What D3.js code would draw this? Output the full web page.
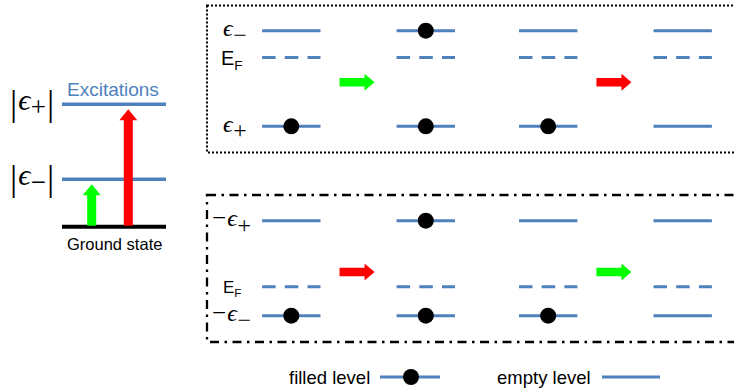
<!DOCTYPE html>
<html><head><meta charset="utf-8">
<script src="https://cdn.jsdelivr.net/npm/d3@7"></script>
<style>body{margin:0;background:#fff}svg{display:block}</style>
</head><body>
<script>
// ---- data ----
const stages = [0, 1, 1.91, 2.91];            // column index (stage along process)
const topLevelNames = ["ϵ−", "EF", "ϵ+"];
const topLevelEnergy = [1, 0.72, 0];
const bottomLevelNames = ["−ϵ+", "EF", "−ϵ−"];
const bottomLevelEnergy = [1, 0.305, 0];
const topFilled = [[0, 1], [1, 1], [0, 1], [0, 0]];      // [upper, lower] per column
const bottomFilled = [[0, 1], [1, 1], [0, 1], [0, 0]];
const transitionStages = [0.5, 2.41];
const transitionEnergy = 0.46;
const topTransitionColors = ["#00ff00", "#ff0000"];
const bottomTransitionColors = ["#ff0000", "#00ff00"];
const excitationNames = ["|ϵ−|", "|ϵ+|"];
const excitationEnergy = [0.387, 1];
const excitationColors = ["#00ff00", "#ff0000"];
const legendItems = ["filled level", "empty level"];

const W = 734, H = 389;
const blue = "#4f81bd";
const svg = d3.select("body").append("svg").attr("width", W).attr("height", H);

const x = d3.scaleLinear().domain([0, 1]).range([291.3, 425.8]);
const halfLen = 29.2;
const yTop = d3.scaleLinear().domain([0, 1]).range([126.3, 30.7]);
const yBot = d3.scaleLinear().domain([0, 1]).range([315.7, 220.7]);
const yLeft = d3.scaleLinear().domain([0, 1]).range([226.7, 104.3]);

function hArrow(g, xc, yc, color) {
  const x0 = xc - 18, x1 = xc + 17, hs = 4.3, hh = 8.5, hl = 10;
  g.append("path").attr("fill", color)
    .attr("d", `M${x0},${yc - hs}H${x1 - hl}V${yc - hh}L${x1},${yc}L${x1 - hl},${yc + hh}V${yc + hs}H${x0}Z`);
}
function vArrow(g, xc, y0, y1, color) {
  const hs = 4.5, hh = 9, hl = 11;
  g.append("path").attr("fill", color)
    .attr("d", `M${xc - hs},${y0}V${y1 + hl}H${xc - hh}L${xc},${y1}L${xc + hh},${y1 + hl}H${xc + hs}V${y0}Z`);
}
const serif = "'Liberation Serif','DejaVu Serif',serif";
const sans = "'Liberation Sans',Arial,sans-serif";

function mathLabel(g, xPos, yc, name, size) {
  const t = g.append("text").attr("x", xPos).attr("y", yc).attr("fill", "#000");
  if (name === "EF") {
    t.attr("font-family", sans).attr("font-size", size).attr("dy", size * 0.36);
    t.append("tspan").text("E");
    t.append("tspan").attr("font-size", size * 0.68).attr("dy", size * 0.25).text("F");
    return;
  }
  t.attr("font-family", serif).attr("font-size", size).attr("dy", size * 0.22);
  let s = name;
  if (s[0] === "−") { t.append("tspan").attr("font-size", size * 1.05).text("−"); s = s.slice(1); }
  t.append("tspan").attr("font-style", "italic").attr("dx", 1).text("ϵ");
  t.append("tspan").attr("font-size", size * 1.0).attr("dx", 0.5).attr("dy", size * 0.28).text(s[1]);
}

// ---- boxes ----
svg.append("rect").attr("x", 207).attr("y", 5.5).attr("width", 540).attr("height", 147)
  .attr("fill", "none").attr("stroke", "#000").attr("stroke-width", 2).attr("stroke-dasharray", "2,2");
svg.append("rect").attr("x", 207).attr("y", 195).attr("width", 540).attr("height", 147)
  .attr("fill", "none").attr("stroke", "#000").attr("stroke-width", 2.3).attr("stroke-dasharray", "9,5.5,2.5,5.5");

function drawBox(y, names, energies, filled, colors, labelX, fontSize) {
  const g = svg.append("g");
  stages.forEach((s, ci) => {
    const xc = x(s);
    energies.forEach((e, li) => {
      const ln = g.append("line").attr("x1", xc - halfLen).attr("x2", xc + halfLen)
        .attr("y1", y(e)).attr("y2", y(e)).attr("stroke", blue).attr("stroke-width", 3);
      if (names[li] === "EF") ln.attr("stroke-dasharray", "13.5,9.2");
    });
    const occ = filled[ci];
    [energies[0], energies[2]].forEach((e, k) => {
      if (occ[k]) g.append("circle").attr("cx", xc).attr("cy", y(e)).attr("r", 8).attr("fill", "#000");
    });
  });
  transitionStages.forEach((s, i) => hArrow(g, x(s) - 1, y(transitionEnergy), colors[i]));
  names.forEach((n, li) => mathLabel(g, labelX[li], y(energies[li]), n, fontSize[li]));
}
drawBox(yTop, topLevelNames, topLevelEnergy, topFilled, topTransitionColors, [222, 221, 222], [24, 20, 24]);
drawBox(yBot, bottomLevelNames, bottomLevelEnergy, bottomFilled, bottomTransitionColors, [212, 223, 212], [24, 17, 24]);

// ---- left excitation panel ----
const gl = svg.append("g");
gl.append("line").attr("x1", 62).attr("x2", 166).attr("y1", yLeft(0)).attr("y2", yLeft(0)).attr("stroke", "#000").attr("stroke-width", 4);
excitationEnergy.forEach((e, i) => {
  gl.append("line").attr("x1", 62).attr("x2", 166).attr("y1", yLeft(e)).attr("y2", yLeft(e)).attr("stroke", blue).attr("stroke-width", 3.5);
});
const arrowX = [91.7, 128.3];
excitationEnergy.forEach((e, i) => vArrow(gl, arrowX[i], yLeft(0) - 1, yLeft(e) + 5, excitationColors[i]));
excitationNames.forEach((n, i) => {
  const yc = yLeft(excitationEnergy[i]);
  const t = gl.append("text").attr("x", 10).attr("y", yc).attr("font-family", serif).attr("font-size", 28);
  t.append("tspan").attr("font-size", 36).attr("dy", 11).text("|");
  t.append("tspan").attr("font-style", "italic").attr("font-size", 30).attr("dx", 1).attr("dy", -5).text("ϵ");
  t.append("tspan").attr("font-size", 27).attr("dx", 0.5).attr("dy", 6).text(n[2]);
  t.append("tspan").attr("font-size", 36).attr("dx", 1).attr("dy", -1).text("|");
});
gl.append("text").attr("x", 67).attr("y", 96).attr("font-family", sans).attr("font-size", 19).attr("fill", blue).text("Excitations");
gl.append("text").attr("x", 67).attr("y", 250).attr("font-family", sans).attr("font-size", 16.5).attr("fill", "#000").text("Ground state");

// ---- legend ----
const lg = svg.append("g").attr("font-family", sans).attr("font-size", 18.5).attr("fill", "#000");
lg.append("text").attr("x", 289).attr("y", 384).text(legendItems[0]);
lg.append("line").attr("x1", 380).attr("x2", 440).attr("y1", 377).attr("y2", 377).attr("stroke", blue).attr("stroke-width", 3);
lg.append("circle").attr("cx", 411).attr("cy", 377).attr("r", 8).attr("fill", "#000");
lg.append("text").attr("x", 497).attr("y", 384).text(legendItems[1]);
lg.append("line").attr("x1", 602).attr("x2", 660).attr("y1", 377).attr("y2", 377).attr("stroke", blue).attr("stroke-width", 3);
</script>
</body></html>
